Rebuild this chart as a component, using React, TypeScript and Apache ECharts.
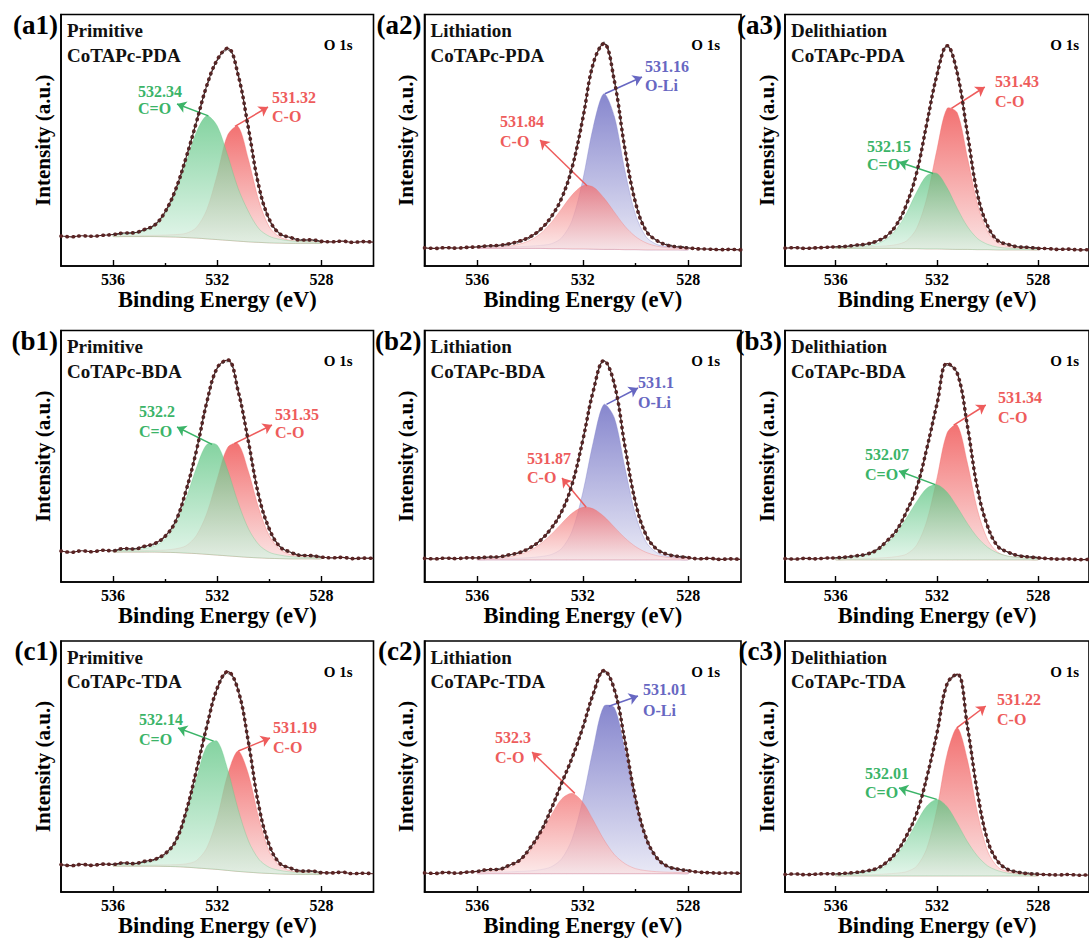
import React, { useEffect, useRef } from 'react';
import * as echarts from 'echarts';

// ---------- DATA ----------
// binding-energy grid of the fitted components (eV)
const FIT_E = [536.0, 535.6, 535.2, 534.8, 534.4, 534.0, 533.6, 533.2, 532.8, 532.4, 532.0, 531.6, 531.2, 530.8, 530.4, 530.0, 529.6, 529.2, 528.8, 528.4, 528.0];
// binding-energy grid of the measured spectra (eV)
const DATA_E = [538.0, 537.6, 537.2, 536.8, 536.4, 536.0, 535.6, 535.2, 534.8, 534.4, 534.0, 533.6, 533.2, 532.8, 532.4, 532.0, 531.6, 531.2, 530.8, 530.4, 530.0, 529.6, 529.2, 528.8, 528.4, 528.0, 527.6, 527.2, 526.8, 526.4, 526.0];
const MAJOR_TICKS = [536, 532, 528];
const MINOR_TICKS = [534, 530];

// (a1) Primitive CoTAPc-PDA
const a1Base = [11.7, 11.7, 11.7, 11.7, 11.7, 11.6, 11.5, 11.3, 11.1, 10.8, 10.5, 10.2, 9.9, 9.6, 9.4, 9.2, 9.1, 9.0, 9.0, 9.0, 9.0];
const a1CdO = [0.7, 0.9, 1.3, 2.2, 4.3, 9.0, 17.6, 29.8, 42.2, 48.9, 45.2, 33.8, 21.0, 12.0, 5.4, 2.6, 1.5, 1.0, 0.8, 0.6, 0.5];
const a1CO = [0.2, 0.3, 0.3, 0.4, 0.5, 0.7, 1.0, 1.7, 4.2, 11.6, 25.9, 41.9, 45.6, 32.6, 16.4, 6.3, 2.4, 1.2, 0.7, 0.6, 0.5];
const a1Data = [11.9, 11.6, 12.0, 11.8, 12.2, 12.5, 13.1, 13.2, 14.5, 16.3, 21.6, 30.4, 43.0, 57.2, 71.8, 82.0, 86.6, 76.0, 54.6, 31.6, 18.5, 12.8, 11.4, 10.3, 10.4, 9.8, 9.6, 9.9, 9.4, 9.7, 9.5];

// (a2) Lithiation CoTAPc-PDA
const a2Base = [7.0, 7.0, 7.0, 7.0, 7.0, 7.0, 7.0, 6.9, 6.9, 6.8, 6.8, 6.7, 6.6, 6.6, 6.5, 6.5, 6.4, 6.4, 6.4, 6.4, 6.4];
const a2OLi = [0.3, 0.4, 0.4, 0.6, 0.7, 0.9, 1.2, 1.9, 4.3, 11.4, 27.3, 48.7, 61.9, 52.8, 31.3, 13.9, 5.2, 2.2, 1.3, 0.9, 0.7];
const a2CO = [0.4, 0.5, 0.6, 0.9, 1.7, 3.2, 5.9, 10.3, 15.9, 21.5, 25.1, 24.7, 20.5, 14.8, 9.3, 5.2, 2.8, 1.5, 0.9, 0.6, 0.4];
const a2Data = [7.2, 7.0, 7.3, 7.1, 7.4, 7.6, 8.0, 8.2, 8.8, 9.9, 11.6, 14.6, 19.5, 27.0, 39.3, 58.5, 80.6, 88.4, 73.5, 46.5, 25.2, 14.0, 10.2, 8.3, 7.6, 7.2, 6.8, 6.7, 6.5, 6.6, 6.4];

// (a3) Delithiation CoTAPc-PDA
const a3Base = [7.0, 7.0, 7.0, 7.0, 7.0, 7.0, 7.0, 6.9, 6.9, 6.8, 6.8, 6.7, 6.6, 6.6, 6.5, 6.5, 6.4, 6.4, 6.4, 6.4, 6.4];
const a3CO = [0.3, 0.4, 0.5, 0.6, 0.8, 1.0, 1.5, 3.1, 8.1, 20.3, 39.6, 56.0, 54.3, 36.6, 18.0, 7.1, 2.8, 1.4, 0.9, 0.7, 0.6];
const a3CdO = [0.4, 0.5, 0.6, 1.0, 1.7, 3.7, 7.6, 14.2, 22.6, 29.2, 30.0, 24.4, 16.3, 9.1, 4.4, 2.1, 1.1, 0.7, 0.5, 0.4, 0.3];
const a3Data = [7.1, 7.3, 7.0, 7.2, 7.4, 7.6, 7.8, 8.3, 8.7, 9.8, 11.9, 16.4, 24.6, 37.2, 56.8, 76.0, 87.6, 76.6, 52.8, 28.5, 15.9, 10.1, 8.6, 7.6, 7.4, 7.0, 6.9, 6.6, 6.7, 6.4, 6.5];

// (b1) Primitive CoTAPc-BDA
const b1Base = [11.9, 11.9, 11.9, 11.9, 11.9, 11.8, 11.7, 11.5, 11.3, 11.0, 10.7, 10.4, 10.1, 9.8, 9.6, 9.4, 9.3, 9.2, 9.2, 9.2, 9.2];
const b1CdO = [0.5, 0.7, 0.9, 1.4, 2.4, 5.2, 11.3, 21.5, 34.1, 43.7, 43.7, 34.1, 21.5, 11.3, 5.2, 2.4, 1.4, 0.9, 0.7, 0.5, 0.4];
const b1CO = [0.3, 0.4, 0.5, 0.6, 0.7, 0.9, 1.5, 2.9, 7.2, 16.3, 30.4, 43.1, 44.9, 34.0, 19.5, 8.9, 3.7, 1.7, 1.0, 0.7, 0.6];
const b1Data = [12.3, 11.8, 12.4, 12.0, 12.6, 12.4, 13.3, 13.1, 14.2, 15.3, 18.2, 24.1, 36.3, 52.2, 71.5, 85.2, 88.3, 76.0, 55.6, 34.0, 21.1, 14.1, 11.9, 10.6, 10.5, 9.9, 9.6, 9.8, 9.3, 9.5, 9.4];

// (b2) Lithiation CoTAPc-BDA
const b2Base = [8.8, 8.8, 8.8, 8.8, 8.8, 8.8, 8.8, 8.8, 8.8, 8.8, 8.8, 8.8, 8.8, 8.8, 8.8, 8.8, 8.8, 8.8, 8.8, 8.8, 8.8];
const b2OLi = [0.3, 0.4, 0.4, 0.6, 0.7, 0.9, 1.3, 2.1, 4.5, 11.5, 26.6, 46.9, 61.8, 56.4, 36.6, 17.8, 7.1, 2.9, 1.5, 1.0, 0.8];
const b2CO = [0.4, 0.5, 0.7, 1.2, 2.1, 3.7, 6.4, 10.1, 14.5, 18.6, 20.9, 20.3, 17.3, 13.0, 8.7, 5.3, 3.0, 1.7, 1.0, 0.6, 0.5];
const b2Data = [9.4, 9.2, 9.5, 9.3, 9.6, 9.6, 9.9, 10.0, 10.8, 11.7, 13.6, 16.6, 21.3, 28.0, 39.0, 56.3, 76.0, 88.0, 78.6, 54.0, 31.6, 18.7, 13.1, 11.0, 10.2, 9.7, 9.2, 9.4, 9.0, 9.2, 9.0];

// (b3) Delithiation CoTAPc-BDA
const b3Base = [8.8, 8.8, 8.8, 8.8, 8.8, 8.8, 8.8, 8.8, 8.8, 8.8, 8.8, 8.8, 8.8, 8.8, 8.8, 8.8, 8.8, 8.8, 8.8, 8.8, 8.8];
const b3CO = [0.3, 0.3, 0.4, 0.5, 0.7, 0.9, 1.3, 2.3, 5.9, 15.5, 32.5, 50.5, 53.6, 38.5, 19.7, 8.0, 3.0, 1.4, 0.9, 0.7, 0.6];
const b3CdO = [0.6, 0.7, 1.1, 1.8, 3.4, 6.2, 10.6, 16.7, 23.2, 28.5, 29.9, 26.9, 21.0, 14.5, 8.9, 5.0, 2.7, 1.5, 1.0, 0.7, 0.5];
const b3Data = [9.3, 9.1, 9.4, 9.2, 9.5, 9.6, 9.9, 10.4, 11.0, 12.6, 16.1, 20.5, 28.1, 37.5, 53.2, 70.8, 86.9, 83.0, 62.2, 37.0, 22.1, 14.2, 11.9, 10.5, 10.0, 9.6, 9.3, 9.1, 9.2, 8.9, 9.0];

// (c1) Primitive CoTAPc-TDA
const c1Base = [10.3, 10.3, 10.3, 10.3, 10.3, 10.2, 10.1, 9.9, 9.6, 9.3, 9.0, 8.6, 8.2, 7.9, 7.6, 7.4, 7.2, 7.1, 7.0, 7.0, 7.0];
const c1CdO = [0.6, 0.7, 0.8, 1.2, 2.0, 4.2, 9.7, 20.3, 35.5, 48.9, 51.1, 40.2, 24.8, 12.4, 5.4, 2.4, 1.4, 0.9, 0.7, 0.6, 0.5];
const c1CO = [0.2, 0.3, 0.3, 0.4, 0.5, 0.6, 0.8, 1.3, 2.9, 8.3, 20.6, 38.2, 48.0, 38.9, 21.5, 8.6, 3.1, 1.4, 0.9, 0.6, 0.5];
const c1Data = [10.9, 10.5, 11.0, 10.6, 11.1, 11.0, 11.6, 11.3, 12.2, 13.0, 15.3, 20.2, 31.9, 48.4, 66.0, 81.2, 87.8, 80.4, 59.6, 34.1, 18.7, 11.4, 9.6, 8.3, 8.4, 7.7, 7.6, 7.9, 7.3, 7.5, 7.3];

// (c2) Lithiation CoTAPc-TDA
const c2Base = [7.3, 7.3, 7.3, 7.3, 7.3, 7.3, 7.3, 7.3, 7.3, 7.3, 7.3, 7.3, 7.3, 7.3, 7.3, 7.3, 7.3, 7.3, 7.3, 7.3, 7.3];
const c2OLi = [0.4, 0.5, 0.6, 0.7, 0.9, 1.1, 1.6, 2.7, 5.9, 13.9, 29.4, 50.0, 66.7, 66.1, 49.1, 28.2, 13.3, 5.8, 2.6, 1.5, 1.1];
const c2CO = [0.6, 0.8, 1.3, 2.4, 4.7, 9.0, 15.5, 23.2, 29.8, 32.0, 28.5, 21.3, 13.6, 7.6, 4.0, 2.0, 1.2, 0.8, 0.6, 0.5, 0.4];
const c2Data = [7.6, 7.4, 7.8, 7.5, 7.9, 8.2, 8.9, 9.0, 10.6, 12.6, 17.5, 23.9, 33.0, 43.4, 53.6, 65.5, 79.0, 88.2, 80.6, 60.0, 37.2, 21.6, 13.7, 10.3, 9.1, 8.5, 7.9, 7.7, 7.5, 7.6, 7.4];

// (c3) Delithiation CoTAPc-TDA
const c3Base = [6.4, 6.4, 6.4, 6.4, 6.4, 6.4, 6.4, 6.4, 6.4, 6.4, 6.4, 6.4, 6.4, 6.4, 6.4, 6.4, 6.4, 6.4, 6.4, 6.4, 6.4];
const c3CO = [0.3, 0.3, 0.4, 0.5, 0.6, 0.8, 1.1, 1.7, 3.9, 11.0, 26.8, 48.5, 59.0, 46.3, 25.0, 9.8, 3.5, 1.7, 1.0, 0.8, 0.6];
const c3CdO = [0.5, 0.5, 0.8, 1.2, 2.1, 4.2, 8.1, 14.0, 21.4, 27.9, 30.5, 27.6, 21.0, 13.7, 7.9, 4.0, 2.1, 1.1, 0.7, 0.5, 0.5];
const c3Data = [7.0, 7.2, 6.9, 7.1, 7.3, 7.2, 7.5, 7.8, 8.4, 9.3, 11.8, 15.9, 22.5, 31.4, 45.8, 63.4, 83.0, 86.8, 66.0, 39.6, 20.5, 12.2, 9.0, 7.9, 7.3, 7.1, 6.9, 6.8, 7.0, 6.7, 6.8];

type Kind = 'red' | 'green' | 'blue';
type Comp = { kind: Kind; center: number; bond: string; vals: number[] };
type Panel = { tag: string; state: string; sample: string; base: number[]; data: number[]; comps: Comp[] };

const PANELS: Panel[] = [
  { tag: '(a1)', state: 'Primitive', sample: 'CoTAPc-PDA', base: a1Base, data: a1Data, comps: [
    { kind: 'red', center: 531.32, bond: 'C-O', vals: a1CO },
    { kind: 'green', center: 532.34, bond: 'C=O', vals: a1CdO }] },
  { tag: '(a2)', state: 'Lithiation', sample: 'CoTAPc-PDA', base: a2Base, data: a2Data, comps: [
    { kind: 'blue', center: 531.16, bond: 'O-Li', vals: a2OLi },
    { kind: 'red', center: 531.84, bond: 'C-O', vals: a2CO }] },
  { tag: '(a3)', state: 'Delithiation', sample: 'CoTAPc-PDA', base: a3Base, data: a3Data, comps: [
    { kind: 'red', center: 531.43, bond: 'C-O', vals: a3CO },
    { kind: 'green', center: 532.15, bond: 'C=O', vals: a3CdO }] },
  { tag: '(b1)', state: 'Primitive', sample: 'CoTAPc-BDA', base: b1Base, data: b1Data, comps: [
    { kind: 'red', center: 531.35, bond: 'C-O', vals: b1CO },
    { kind: 'green', center: 532.2, bond: 'C=O', vals: b1CdO }] },
  { tag: '(b2)', state: 'Lithiation', sample: 'CoTAPc-BDA', base: b2Base, data: b2Data, comps: [
    { kind: 'blue', center: 531.1, bond: 'O-Li', vals: b2OLi },
    { kind: 'red', center: 531.87, bond: 'C-O', vals: b2CO }] },
  { tag: '(b3)', state: 'Delithiation', sample: 'CoTAPc-BDA', base: b3Base, data: b3Data, comps: [
    { kind: 'red', center: 531.34, bond: 'C-O', vals: b3CO },
    { kind: 'green', center: 532.07, bond: 'C=O', vals: b3CdO }] },
  { tag: '(c1)', state: 'Primitive', sample: 'CoTAPc-TDA', base: c1Base, data: c1Data, comps: [
    { kind: 'red', center: 531.19, bond: 'C-O', vals: c1CO },
    { kind: 'green', center: 532.14, bond: 'C=O', vals: c1CdO }] },
  { tag: '(c2)', state: 'Lithiation', sample: 'CoTAPc-TDA', base: c2Base, data: c2Data, comps: [
    { kind: 'blue', center: 531.01, bond: 'O-Li', vals: c2OLi },
    { kind: 'red', center: 532.3, bond: 'C-O', vals: c2CO }] },
  { tag: '(c3)', state: 'Delithiation', sample: 'CoTAPc-TDA', base: c3Base, data: c3Data, comps: [
    { kind: 'red', center: 531.22, bond: 'C-O', vals: c3CO },
    { kind: 'green', center: 532.01, bond: 'C=O', vals: c3CdO }] },
];

// ---------- LAYOUT & STYLE ----------
const COL_LEFT = [61, 424.5, 785];
const COL_W = [312.5, 316.5, 315];
const ROW_TOP = [14.5, 330.5, 641];
const ROW_H = [251.5, 251.5, 251];

// annotation text x, baselines, arrow head position (pixels), per panel / component
const ANNOT = [
  [{ x: 272, b1: 103, b2: 122, ax: 268, ay: 107 }, { x: 138, b1: 97, b2: 114, ax: 177, ay: 104 }],
  [{ x: 645, b1: 72, b2: 91, ax: 642, ay: 77 }, { x: 500, b1: 127, b2: 147, ax: 540, ay: 140 }],
  [{ x: 995, b1: 87, b2: 107, ax: 992, ay: 87 }, { x: 867, b1: 152, b2: 170, ax: 903, ay: 162 }],
  [{ x: 275, b1: 420, b2: 438, ax: 272, ay: 425 }, { x: 139, b1: 417, b2: 437, ax: 177, ay: 427 }],
  [{ x: 638, b1: 388, b2: 408, ax: 638, ay: 388 }, { x: 527, b1: 464, b2: 483, ax: 562, ay: 478 }],
  [{ x: 998, b1: 403, b2: 423, ax: 993, ay: 405 }, { x: 865, b1: 460, b2: 480, ax: 903, ay: 471 }],
  [{ x: 273, b1: 733, b2: 753, ax: 270, ay: 738 }, { x: 139, b1: 725, b2: 745, ax: 178, ay: 728 }],
  [{ x: 643, b1: 695, b2: 716, ax: 638, ay: 696 }, { x: 495, b1: 743, b2: 763, ax: 532, ay: 752 }],
  [{ x: 997, b1: 705, b2: 725, ax: 993, ay: 706 }, { x: 865, b1: 779, b2: 798, ax: 903, ay: 788 }],
];

const FONT = 'Liberation Serif';
const KIND: Record<Kind, { text: string; top: string; bottom: string }> = {
  red: { text: '#ee5c5c', top: '#f26a6a', bottom: '#fbe2e2' },
  green: { text: '#3bb468', top: '#55c27c', bottom: '#d9f2e3' },
  blue: { text: '#6767c2', top: '#8080cb', bottom: '#e8e8f5' },
};
const LAYER_OPACITY = [0.95, 0.72];

function gridRect(p: number) {
  const r = Math.floor(p / 3), c = p % 3;
  return { left: COL_LEFT[c], top: ROW_TOP[r], width: COL_W[c], height: ROW_H[r] };
}

function pxToData(p: number, px: number, py: number) {
  const g = gridRect(p);
  return [538 - ((px - g.left) / g.width) * 12, ((g.top + g.height - py) / g.height) * 100];
}

function textEl(text: string, x: number, baseline: number, size: number, color: string, align: string) {
  return {
    type: 'text', x, y: baseline - 0.34 * size, z: 100, silent: true,
    style: { text, fill: color, fontFamily: FONT, fontWeight: 'bold', fontSize: size, align, verticalAlign: 'middle' },
  };
}

function buildOption() {
  const grid: any[] = [], xAxis: any[] = [], yAxis: any[] = [], series: any[] = [], graphic: any[] = [];

  PANELS.forEach((panel, p) => {
    const g = gridRect(p);
    grid.push({ left: g.left, top: g.top, width: g.width, height: g.height, show: true, borderColor: '#000', borderWidth: 1.6, containLabel: false });

    xAxis.push({
      gridIndex: p, type: 'value', min: 526, max: 538, interval: 2, inverse: true, position: 'bottom',
      axisLine: { show: true, onZero: false, lineStyle: { color: '#000', width: 1.6 } },
      axisTick: { show: true, inside: true, length: 6, customValues: MAJOR_TICKS, lineStyle: { color: '#000', width: 1.4 } },
      axisLabel: { show: true, customValues: MAJOR_TICKS, margin: 5, fontFamily: FONT, fontWeight: 'bold', fontSize: 16, color: '#000',
        formatter: (v: number) => (v % 4 === 0 ? String(v) : '') },
      splitLine: { show: false },
      name: 'Binding Energy (eV)', nameLocation: 'middle', nameGap: 20,
      nameTextStyle: { fontFamily: FONT, fontWeight: 'bold', fontSize: 22.5, color: '#000' },
    });
    xAxis.push({
      gridIndex: p, type: 'value', min: 526, max: 538, interval: 2, inverse: true, position: 'bottom',
      axisLine: { show: false, onZero: false },
      axisTick: { show: true, inside: true, length: 3, customValues: MINOR_TICKS, lineStyle: { color: '#000', width: 1.4 } },
      axisLabel: { show: false }, splitLine: { show: false },
    });
    yAxis.push({
      gridIndex: p, type: 'value', min: 0, max: 100,
      axisLine: { show: true, onZero: false, lineStyle: { color: '#000', width: 1.6 } },
      axisTick: { show: false }, axisLabel: { show: false }, splitLine: { show: false },
      name: 'Intensity (a.u.)', nameLocation: 'middle', nameGap: 8,
      nameTextStyle: { fontFamily: FONT, fontWeight: 'bold', fontSize: 21, color: '#000' },
    });

    const base = panel.base;
    // component fills
    panel.comps.forEach((comp, ci) => {
      const k = KIND[comp.kind];
      series.push({
        type: 'custom', xAxisIndex: 2 * p, yAxisIndex: p, silent: true, z: 2 + ci,
        data: FIT_E.map((e, i) => [e, base[i] + comp.vals[i]]),
        renderItem: (params: any, api: any) => {
          if (params.dataIndex !== 0) return null;
          const pts: number[][] = [];
          for (let i = 0; i < FIT_E.length; i++) pts.push(api.coord([FIT_E[i], base[i] + comp.vals[i]]));
          for (let i = FIT_E.length - 1; i >= 0; i--) pts.push(api.coord([FIT_E[i], base[i]]));
          return {
            type: 'polygon', shape: { points: pts, smooth: 0.3 },
            style: {
              fill: new echarts.graphic.LinearGradient(0, 0, 0, 1, [{ offset: 0, color: k.top }, { offset: 1, color: k.bottom }]),
              opacity: LAYER_OPACITY[ci], stroke: k.top, lineWidth: 0.4,
            },
          };
        },
      });
    });

    // measured spectrum: thin trace + dots
    const dataPts = DATA_E.map((e, i) => [e, panel.data[i]]);
    series.push({
      type: 'line', xAxisIndex: 2 * p, yAxisIndex: p, silent: true, z: 5, data: dataPts, smooth: 0.4, symbol: 'none',
      lineStyle: { color: '#4a1c1c', width: 1.1 },
    });
    series.push({
      type: 'line', xAxisIndex: 2 * p, yAxisIndex: p, silent: true, z: 6, data: dataPts, smooth: 0.4, symbol: 'none',
      lineStyle: { color: '#5a2424', width: 3.6, type: [0.5, 5.5], cap: 'round' },
    });

    // fitted envelope + arrows
    const env = FIT_E.map((e, i) => [e, panel.comps.reduce((s, c) => s + c.vals[i], base[i])]);
    const arrows = panel.comps.map((comp, ci) => {
      let kMax = 0;
      comp.vals.forEach((v, i) => { if (v > comp.vals[kMax]) kMax = i; });
      const a = ANNOT[p][ci];
      const col = KIND[comp.kind].text;
      return [
        { coord: [comp.center, base[kMax] + comp.vals[kMax]], lineStyle: { color: col, width: 1.5, type: 'solid' } },
        { coord: pxToData(p, a.ax, a.ay), lineStyle: { color: col, width: 1.5, type: 'solid' } },
      ];
    });
    series.push({
      type: 'line', xAxisIndex: 2 * p, yAxisIndex: p, silent: true, z: 7, data: env, smooth: 0.4, symbol: 'none',
      lineStyle: { color: '#333', width: 0.9, type: [2, 2] },
      markLine: {
        silent: true, symbol: ['none', 'arrow'], symbolSize: 9, label: { show: false },
        lineStyle: { width: 1.5, type: 'solid' }, data: arrows,
      },
    });

    // texts
    graphic.push(textEl(panel.tag, g.left - 3, g.top + 19.5, 27, '#000', 'right'));
    graphic.push(textEl(panel.state, g.left + 6, g.top + 22.5, 19, '#111', 'left'));
    graphic.push(textEl(panel.sample, g.left + 6, g.top + 47, 19, '#111', 'left'));
    graphic.push(textEl('O 1s', g.left + g.width - 21, g.top + 36, 15, '#000', 'right'));
    panel.comps.forEach((comp, ci) => {
      const a = ANNOT[p][ci];
      const col = KIND[comp.kind].text;
      graphic.push(textEl(String(comp.center), a.x, a.b1, 16, col, 'left'));
      graphic.push(textEl(comp.bond, a.x, a.b2, 16, col, 'left'));
    });
  });

  return { animation: false, backgroundColor: '#fff', textStyle: { fontFamily: FONT }, grid, xAxis, yAxis, series, graphic };
}

export default function App() {
  const ref = useRef<HTMLDivElement>(null);
  useEffect(() => {
    if (!ref.current) return;
    const chart = echarts.init(ref.current, null, { renderer: 'svg' });
    chart.setOption(buildOption() as any);
    return () => chart.dispose();
  }, []);
  return <div ref={ref} style={{ position: 'fixed', left: 0, top: 0, width: 1089, height: 938, background: '#fff' }} />;
}
